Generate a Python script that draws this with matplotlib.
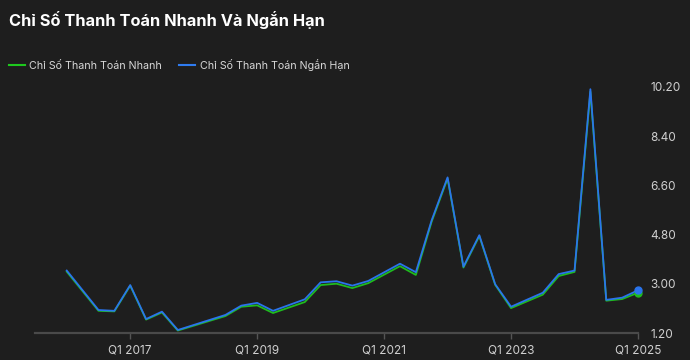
import matplotlib.pyplot as plt

plt.rcParams['font.family'] = ['Inter', 'DejaVu Sans']

# quarters present in the chart (year, quarter)
quarters = [(2016, 1), (2016, 3), (2016, 4), (2017, 1), (2017, 2), (2017, 3), (2017, 4),
            (2018, 3), (2018, 4), (2019, 1), (2019, 2), (2019, 4), (2020, 1), (2020, 2),
            (2020, 3), (2020, 4), (2021, 2), (2021, 3), (2021, 4), (2022, 1), (2022, 2),
            (2022, 3), (2022, 4), (2023, 1), (2023, 3), (2023, 4), (2024, 1), (2024, 2),
            (2024, 3), (2024, 4), (2025, 1)]

quick_ratio = [3.45, 2.02, 2.00, 2.94, 1.70, 1.96, 1.30,
               1.83, 2.17, 2.22, 1.94, 2.34, 2.96, 3.01,
               2.85, 3.03, 3.65, 3.33, 5.28, 6.85, 3.60,
               4.75, 2.97, 2.12, 2.61, 3.29, 3.44, 10.02,
               2.39, 2.45, 2.68]

current_ratio = [3.49, 2.05, 2.02, 2.96, 1.72, 1.99, 1.32,
                 1.87, 2.21, 2.31, 2.02, 2.44, 3.06, 3.10,
                 2.94, 3.11, 3.74, 3.43, 5.33, 6.89, 3.63,
                 4.78, 2.99, 2.17, 2.68, 3.36, 3.49, 10.11,
                 2.42, 2.50, 2.77]

xtick_labels = ['Q1 2017', 'Q1 2019', 'Q1 2021', 'Q1 2023', 'Q1 2025']
yticks = [1.2, 3.0, 4.8, 6.6, 8.4, 10.2]

bg = '#1e1e1e'
green = '#1fbb1f'
blue = '#2a74ec'

x = [y + (q - 1) / 4 for y, q in quarters]
xticks = [int(s.split()[1]) for s in xtick_labels]

fig = plt.figure(figsize=(6.9, 3.6), dpi=100, facecolor=bg)
ax = fig.add_axes([35 / 690, 1 - 333.3 / 360, 603 / 690, 246.6 / 360])
ax.set_facecolor(bg)

ax.plot(x, quick_ratio, color=green, lw=1.3, label='Chỉ Số Thanh Toán Nhanh', zorder=3)
ax.plot(x, current_ratio, color=blue, lw=1.3, label='Chỉ Số Thanh Toán Ngắn Hạn', zorder=4)
ax.plot(x[-1], quick_ratio[-1], 'o', color=green, ms=5, zorder=5, clip_on=False)
ax.plot(x[-1], current_ratio[-1], 'o', color=blue, ms=5, zorder=6, clip_on=False)

ax.set_xlim(2015.5, 2025.0)
ax.set_ylim(1.2, 10.2)

ax.set_xticks(xticks)
ax.set_xticklabels(xtick_labels)
ax.set_yticks(yticks)
ax.set_yticklabels([f'{v:.2f}' for v in yticks])
ax.yaxis.tick_right()

for s in ['top', 'left', 'right']:
    ax.spines[s].set_visible(False)
ax.spines['bottom'].set_color('#4a4a4a')
ax.spines['bottom'].set_linewidth(1.6)

ax.tick_params(axis='x', colors='#555555', length=4, width=1, labelcolor='#d0d0d0',
               labelsize=8.5, pad=4)
ax.tick_params(axis='y', length=0, labelcolor='#d0d0d0', labelsize=8.5, pad=9)

fig.text(9 / 690, 1 - 20 / 360, 'Chỉ Số Thanh Toán Nhanh Và Ngắn Hạn', color='white',
         fontsize=11.8, fontweight='bold', va='center', ha='left')

leg = ax.legend(loc='center left', bbox_to_anchor=(9 / 690, 1 - 65 / 360),
                bbox_transform=fig.transFigure, ncol=2, frameon=False,
                fontsize=7.7, handlelength=1.5, handletextpad=0.4, columnspacing=1.6,
                borderaxespad=0, borderpad=0)
for t in leg.get_texts():
    t.set_color('#d8d8d8')
leg.get_lines()[0].set_color('#1ec81e')
leg.get_lines()[1].set_color('#2f7bf0')
for h in leg.get_lines():
    h.set_linewidth(1.5)

fig.savefig('out.png', dpi=100, facecolor=bg)
